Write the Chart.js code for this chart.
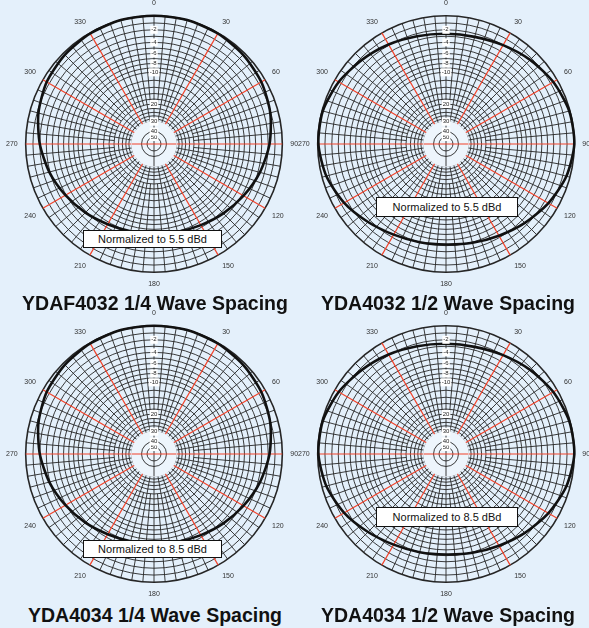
<!DOCTYPE html>
<html>
<head>
<meta charset="utf-8">
<script src="https://cdn.jsdelivr.net/npm/chart.js@4.4.1/dist/chart.umd.min.js"></script>
<style>
  html, body { margin: 0; padding: 0; }
  body {
    width: 589px; height: 628px; position: relative; overflow: hidden;
    background: #e4f0fb; font-family: 'Liberation Sans', Arial, sans-serif;
  }
  canvas { position: absolute; }
  .title {
    position: absolute; width: 300px; text-align: center; font-weight: bold;
    font-size: 19.5px; line-height: 20px; color: #111; white-space: nowrap;
  }
  .norm {
    position: absolute; box-sizing: border-box; background: #fff; border: 1px solid #111;
    text-align: center; font-size: 11px; color: #111; z-index: 2; white-space: nowrap;
  }
</style>
</head>
<body>
<canvas id="c1" width="296" height="296" style="left:5px;top:-4px"></canvas>
<canvas id="c2" width="296" height="296" style="left:297px;top:-4px"></canvas>
<canvas id="c3" width="296" height="296" style="left:5px;top:306px"></canvas>
<canvas id="c4" width="296" height="296" style="left:297px;top:306px"></canvas>

<div class="norm" id="n1" style="left:83px;top:230px;width:139px;height:18px;line-height:16px"></div>
<div class="norm" id="n2" style="left:376px;top:197px;width:142px;height:20px;line-height:18px"></div>
<div class="norm" id="n3" style="left:83px;top:540px;width:139px;height:18px;line-height:16px"></div>
<div class="norm" id="n4" style="left:376px;top:507px;width:142px;height:20px;line-height:18px"></div>

<div class="title" id="t1" style="left:5px;top:293px"></div>
<div class="title" id="t2" style="left:298px;top:293px"></div>
<div class="title" id="t3" style="left:5px;top:605px"></div>
<div class="title" id="t4" style="left:298px;top:605px"></div>

<script>
// pattern read every 15 degrees, in dB relative to the peak
const patternAngles = [0, 15, 30, 45, 60, 75, 90, 105, 120, 135, 150, 165, 180, 195, 210, 225, 240, 255, 270, 285, 300, 315, 330, 345];
const quarterWaveDb = [0, 0, -0.1, -0.3, -0.6, -1.1, -1.8, -2.7, -3.7, -4.6, -5.4, -5.9, -6.1, -6.0, -5.6, -4.8, -3.9, -2.9, -2.0, -1.2, -0.6, -0.3, -0.1, 0];
const halfWaveDb = [-2.6, -2.5, -2.0, -1.3, -0.6, -0.1, 0, -0.5, -1.4, -2.4, -3.3, -3.9, -4.2, -4.0, -3.5, -2.6, -1.5, -0.6, -0.1, -0.1, -0.6, -1.3, -1.9, -2.4];

// rings of the log chart, and which of them carry a label
const ringDb = [0, -1, -2, -3, -4, -5, -6, -7, -8, -9, -10, -12, -14, -16, -18, -20, -22, -24, -26, -28, -30, -40, -50];
const ringLabelDb = [-2, -4, -6, -8, -10, -20, -30, -40, -50];
const ringLabelText = ['-2', '-4', '-6', '-8', '-10', '20', '30', '40', '50'];

const chartTitles = ['YDAF4032 1/4 Wave Spacing', 'YDA4032 1/2 Wave Spacing', 'YDA4034 1/4 Wave Spacing', 'YDA4034 1/2 Wave Spacing'];
const gainNotes = ['Normalized to 5.5 dBd', 'Normalized to 5.5 dBd', 'Normalized to 8.5 dBd', 'Normalized to 8.5 dBd'];
const chartPatterns = [quarterWaveDb, halfWaveDb, quarterWaveDb, halfWaveDb];

const spokeStep = 5;
const angleLabels = [];
for (let a = 0; a < 360; a += spokeStep) angleLabels.push(String(a));

const gridBlack = '#262626';
const gridRed = '#f2432b';
const hubColor = '#edf5fc';

Chart.defaults.font.family = "'Liberation Sans', Arial, sans-serif";

// ARRL log-periodic scale: 2 dB per 0.89 of the radius
const toR = (db) => Math.pow(0.89, -db / 2);

const ringsUp = ringDb.slice().reverse();

const polarGridExtras = {
  id: 'polarGridExtras',
  beforeDatasetsDraw(chart) {
    const scale = chart.scales.r;
    const ctx = chart.ctx;
    const rOuter = scale.getDistanceFromCenterForValue(1);
    const rMid = scale.getDistanceFromCenterForValue(toR(-20));
    const rHub = scale.getDistanceFromCenterForValue(toR(-30));
    const xc = scale.xCenter, yc = scale.yCenter;
    ctx.save();
    // extra 5 degree spokes in the outer band
    ctx.strokeStyle = gridBlack;
    ctx.lineWidth = 0.9;
    for (let i = 1; i < angleLabels.length; i += 2) {
      const a = scale.getPointPosition(i, rMid);
      const b = scale.getPointPosition(i, rOuter);
      ctx.beginPath();
      ctx.moveTo(a.x, a.y);
      ctx.lineTo(b.x, b.y);
      ctx.stroke();
    }
    // pale hub
    ctx.fillStyle = hubColor;
    ctx.beginPath();
    ctx.arc(xc, yc, rHub + 0.6, 0, Math.PI * 2);
    ctx.fill();
    [-40, -50].forEach((d) => {
      ctx.beginPath();
      ctx.arc(xc, yc, scale.getDistanceFromCenterForValue(toR(d)), 0, Math.PI * 2);
      ctx.stroke();
    });
    ctx.beginPath();
    ctx.moveTo(xc, yc - rHub);
    ctx.lineTo(xc, yc + rHub);
    ctx.stroke();
    ctx.strokeStyle = gridRed;
    ctx.lineWidth = 1.2;
    ctx.beginPath();
    ctx.moveTo(xc - rHub, yc);
    ctx.lineTo(xc + rHub, yc);
    ctx.stroke();
    ctx.restore();
  }
};

const spokeColor = (i) => {
  const deg = i * spokeStep;
  return deg % 30 === 0 && deg % 180 !== 0 ? gridRed : gridBlack;
};

const buildChart = (n) => {
  const dbs = chartPatterns[n];
  const data = angleLabels.map(() => null);
  patternAngles.forEach((a, k) => { data[a / spokeStep] = toR(dbs[k]); });

  document.getElementById('t' + (n + 1)).textContent = chartTitles[n];
  document.getElementById('n' + (n + 1)).textContent = gainNotes[n];

  return new Chart(document.getElementById('c' + (n + 1)), {
    type: 'radar',
    data: {
      labels: angleLabels,
      datasets: [{
        data,
        borderColor: '#111',
        borderWidth: 2.6,
        pointRadius: 0,
        fill: false,
        spanGaps: true,
        tension: 0.25
      }]
    },
    options: {
      responsive: false,
      animation: false,
      plugins: { legend: { display: false }, tooltip: { enabled: false } },
      scales: {
        r: {
          min: 0,
          max: 1,
          afterBuildTicks: (scale) => {
            scale.ticks = [{ value: 0 }].concat(ringsUp.map((d) => ({ value: toR(d) })));
          },
          grid: {
            circular: true,
            color: gridBlack,
            lineWidth: (ctx) => (ctx.index === ringsUp.length ? 1.6 : 0.9)
          },
          angleLines: {
            color: (ctx) => spokeColor(ctx.index),
            lineWidth: (ctx) => {
              if (ctx.index % 2 !== 0) return 0;
              return spokeColor(ctx.index) === gridRed ? 1.2 : 0.9;
            }
          },
          pointLabels: {
            padding: 4,
            color: '#333',
            font: { size: 7 },
            callback: (label, i) => (i % 6 === 0 ? label : '')
          },
          ticks: {
            z: 1,
            color: '#222',
            font: { size: 6 },
            backdropColor: '#fff',
            backdropPadding: 1,
            showLabelBackdrop: (ctx) => ctx.index > 0 && ringLabelDb.includes(ringsUp[ctx.index - 1]),
            callback: (value, index) => {
              if (index === 0) return '';
              const k = ringLabelDb.indexOf(ringsUp[index - 1]);
              return k >= 0 ? ringLabelText[k] : '';
            }
          }
        }
      }
    },
    plugins: [polarGridExtras]
  });
};

[0, 1, 2, 3].forEach(buildChart);
</script>
</body>
</html>
